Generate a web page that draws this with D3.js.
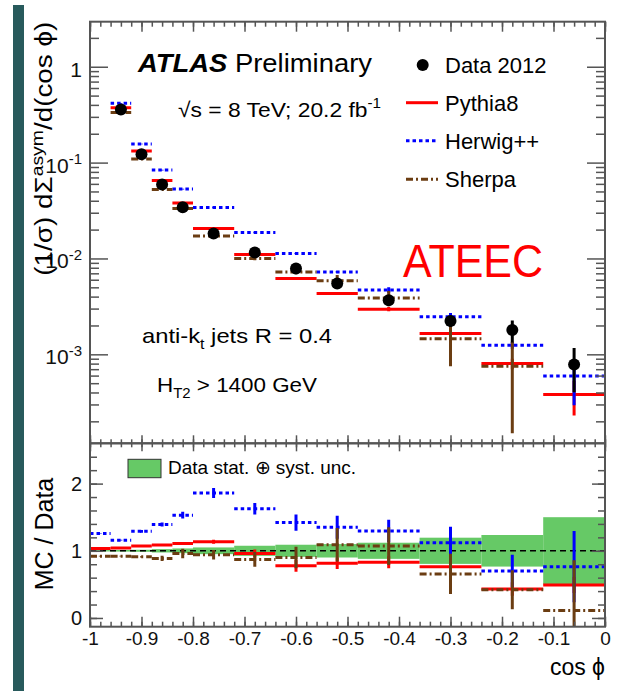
<!DOCTYPE html>
<html>
<head>
<meta charset="utf-8">
<script src="https://cdn.jsdelivr.net/npm/d3@7"></script>
<style>
  body { margin: 0; background: #fff; }
  text { font-family: "Liberation Sans", Arial, Helvetica, sans-serif; }
</style>
</head>
<body>
<script>
// bin edges in cos phi
const binEdges = [-1, -0.96, -0.92, -0.88, -0.84, -0.80, -0.72, -0.64, -0.56, -0.48, -0.36, -0.24, -0.12, 0];

// top panel: (1/sigma) dSigma^asym / d(cos phi), first bin is off scale
const dataVals   = [null, 0.359, 0.122, 0.059, 0.0343, 0.0182, 0.01155, 0.00787, 0.00548, 0.00367, 0.00223, 0.00179, 0.000783];
const dataErr    = [null, 0.004, 0.0015, 0.0008, 0.0005, 0.0003, 0.0002, 0.00015, 0.00015, 0.0002, 0.0003, 0.00046, 0.00038];
const pythiaVals = [null, 0.373, 0.132, 0.065, 0.038, 0.0206, 0.0110, 0.00618, 0.00431, 0.00296, 0.00165, 0.00080, 0.00038];
const pythiaErr  = [null, 0.003, 0.001, 0.0005, 0.0003, 0.0002, 0.0002, 0.0002, 0.00015, 0.00015, 0.0001, 0.0001, 0.00015];
const herwigVals = [null, 0.415, 0.156, 0.0835, 0.0529, 0.034, 0.0187, 0.01128, 0.00724, 0.0047, 0.00246, 0.001245, 0.000595];
const herwigErr  = [null, 0.003, 0.001, 0.0006, 0.0004, 0.0003, 0.0002, 0.00015, 0.00015, 0.0003, 0.00024, 0.0001, 0.0003];
const sherpaVals = [null, 0.334, 0.109, 0.0525, 0.0333, 0.0172, 0.0100, 0.00724, 0.00584, 0.00388, 0.00145, 0.00075, 0.000078];
const sherpaErr  = [null, 0.003, 0.001, 0.0006, 0.0004, 0.0003, 0.0004, 0.0004, 0.0009, 0.0007, 0.0007, 0.0006, 0.00003];

// bottom panel: MC / Data
const pythiaRatio    = [1.035, 1.04, 1.07, 1.085, 1.11, 1.133, 0.96, 0.778, 0.815, 0.83, 0.763, 0.43, 0.49];
const pythiaRatioErr = [0.005, 0.006, 0.01, 0.015, 0.02, 0.03, 0.06, 0.09, 0.085, 0.09, 0.1, 0.1, 0.12];
const herwigRatio    = [1.257, 1.158, 1.29, 1.39, 1.53, 1.86, 1.627, 1.42, 1.35, 1.296, 1.118, 0.70, 0.763];
const herwigRatioErr = [0.005, 0.006, 0.02, 0.03, 0.05, 0.075, 0.086, 0.12, 0.17, 0.165, 0.24, 0.24, 0.53];
const sherpaRatio    = [0.92, 0.92, 0.91, 0.887, 0.96, 0.94, 0.872, 0.90, 1.09, 1.07, 0.655, 0.42, 0.11];
const sherpaRatioErr = [0.005, 0.006, 0.01, 0.04, 0.07, 0.07, 0.11, 0.16, 0.25, 0.28, 0.3, 0.29, 0.75];
const dataUncBand    = [0.01, 0.012, 0.015, 0.025, 0.035, 0.05, 0.075, 0.09, 0.1, 0.12, 0.195, 0.235, 0.5];

// tick labels
const xTicks = [-1, -0.9, -0.8, -0.7, -0.6, -0.5, -0.4, -0.3, -0.2, -0.1, 0];
const logTicks = [1e-3, 1e-2, 1e-1, 1];
const ratioTicks = [0, 1, 2];

const W = 633, H = 691;
const L = 90, R = 605, T = 21.7, M = 443.3, B = 626.7;
const RED = '#ff0000', BLUE = '#0000ff', BROWN = '#6b3d12', AXIS = '#555';

const svg = d3.select('body').append('svg').attr('width', W).attr('height', H);

// slide edge strip
svg.append('rect').attr('x', 13).attr('y', 5).attr('width', 11).attr('height', H - 5).attr('fill', '#285a5c');

const x = d3.scaleLinear().domain([-1, 0]).range([L, R]);
const yTop = d3.scaleLog().domain([1.18e-4, 2.95]).range([M, T]);
const yRat = d3.scaleLinear().domain([-0.13, 2.6]).range([B, M]);

const centre = i => (binEdges[i] + binEdges[i + 1]) / 2;

const defs = svg.append('defs');
defs.append('clipPath').attr('id', 'clipTop').append('rect')
  .attr('x', L).attr('y', T).attr('width', R - L).attr('height', M - T);
defs.append('clipPath').attr('id', 'clipRat').append('rect')
  .attr('x', L).attr('y', M).attr('width', R - L).attr('height', B - M);

const gTop = svg.append('g').attr('clip-path', 'url(#clipTop)');
const gRat = svg.append('g').attr('clip-path', 'url(#clipRat)');

function drawHist(g, vals, yScale, color, dash) {
  g.append('g').selectAll('line')
    .data(vals.map((v, i) => ({ v, i })).filter(d => d.v != null))
    .join('line')
    .attr('x1', d => x(binEdges[d.i])).attr('x2', d => x(binEdges[d.i + 1]))
    .attr('y1', d => yScale(d.v)).attr('y2', d => yScale(d.v))
    .attr('stroke', color).attr('stroke-width', 3)
    .attr('stroke-dasharray', dash);
}

function drawErr(g, vals, errs, yScale, color, width) {
  const lo = yScale.domain()[0];
  g.append('g').selectAll('line')
    .data(vals.map((v, i) => ({ v, e: errs[i], i })).filter(d => d.v != null))
    .join('line')
    .attr('x1', d => x(centre(d.i))).attr('x2', d => x(centre(d.i)))
    .attr('y1', d => yScale(Math.max(d.v - d.e, lo)))
    .attr('y2', d => yScale(d.v + d.e))
    .attr('stroke', color).attr('stroke-width', width);
}

// ---- top panel
drawHist(gTop, pythiaVals, yTop, RED, null);
drawHist(gTop, herwigVals, yTop, BLUE, '3.5,3');
drawHist(gTop, sherpaVals, yTop, BROWN, '7,3,2,3');
drawErr(gTop, pythiaVals, pythiaErr, yTop, RED, 3);
drawErr(gTop, herwigVals, herwigErr, yTop, BLUE, 3);
drawErr(gTop, sherpaVals, sherpaErr, yTop, BROWN, 3);
drawErr(gTop, dataVals, dataErr, yTop, '#000', 3);
gTop.append('g').selectAll('circle')
  .data(dataVals.map((v, i) => ({ v, i })).filter(d => d.v != null))
  .join('circle')
  .attr('cx', d => x(centre(d.i))).attr('cy', d => yTop(d.v))
  .attr('r', 6).attr('fill', '#000');

// ---- ratio panel
gRat.append('g').selectAll('rect')
  .data(dataUncBand)
  .join('rect')
  .attr('x', (d, i) => x(binEdges[i]))
  .attr('width', (d, i) => x(binEdges[i + 1]) - x(binEdges[i]))
  .attr('y', d => yRat(1 + d))
  .attr('height', d => yRat(1 - d) - yRat(1 + d))
  .attr('fill', '#66c966');
gRat.append('line')
  .attr('x1', L).attr('x2', R).attr('y1', yRat(1)).attr('y2', yRat(1))
  .attr('stroke', '#000').attr('stroke-width', 1.6).attr('stroke-dasharray', '6,4');
drawHist(gRat, pythiaRatio, yRat, RED, null);
drawErr(gRat, pythiaRatio, pythiaRatioErr, yRat, RED, 3);
drawHist(gRat, herwigRatio, yRat, BLUE, '3.5,3');
drawErr(gRat, herwigRatio, herwigRatioErr, yRat, BLUE, 3);
drawHist(gRat, sherpaRatio, yRat, BROWN, '7,3,2,3');
drawErr(gRat, sherpaRatio, sherpaRatioErr, yRat, BROWN, 3);

// ---- axes
function styleAxis(g) {
  g.select('.domain').remove();
  g.selectAll('.tick line').attr('stroke', AXIS).attr('stroke-width', 1.5);
  g.selectAll('.tick text').attr('fill', '#111').attr('font-family', '"Liberation Sans", Arial, sans-serif');
}
const xMinor = d3.range(-50, 1).map(k => k / 50);
const noLabel = () => '';

// x ticks, top edge of top panel
svg.append('g').attr('transform', `translate(0,${T})`)
  .call(d3.axisTop(x).tickValues(xTicks).tickSize(-10).tickFormat(noLabel)).call(styleAxis);
svg.append('g').attr('transform', `translate(0,${T})`)
  .call(d3.axisTop(x).tickValues(xMinor).tickSize(-5).tickFormat(noLabel)).call(styleAxis);
// between panels
svg.append('g').attr('transform', `translate(0,${M})`)
  .call(d3.axisBottom(x).tickValues(xTicks).tickSize(-8).tickFormat(noLabel)).call(styleAxis);
svg.append('g').attr('transform', `translate(0,${M})`)
  .call(d3.axisBottom(x).tickValues(xMinor).tickSize(-4).tickFormat(noLabel)).call(styleAxis);
svg.append('g').attr('transform', `translate(0,${M})`)
  .call(d3.axisTop(x).tickValues(xTicks).tickSize(-8).tickFormat(noLabel)).call(styleAxis);
svg.append('g').attr('transform', `translate(0,${M})`)
  .call(d3.axisTop(x).tickValues(xMinor).tickSize(-4).tickFormat(noLabel)).call(styleAxis);
// bottom edge with labels
svg.append('g').attr('transform', `translate(0,${B})`)
  .call(d3.axisBottom(x).tickValues(xMinor).tickSize(-5).tickFormat(noLabel)).call(styleAxis);
svg.append('g').attr('transform', `translate(0,${B})`)
  .call(d3.axisBottom(x).tickValues(xTicks).tickSize(-10).tickPadding(5)
    .tickFormat(d => String(d))).call(styleAxis)
  .selectAll('.tick text').attr('font-size', 19);

// log y axis
const logMinor = [];
for (let e = -4; e <= 0; e++) for (let k = 2; k <= 9; k++) {
  const v = k * Math.pow(10, e);
  if (v > yTop.domain()[0] && v < yTop.domain()[1]) logMinor.push(v);
}
svg.append('g').attr('transform', `translate(${L},0)`)
  .call(d3.axisLeft(yTop).tickValues(logMinor).tickSize(-9).tickFormat(noLabel)).call(styleAxis);
svg.append('g').attr('transform', `translate(${R},0)`)
  .call(d3.axisRight(yTop).tickValues(logMinor).tickSize(-9).tickFormat(noLabel)).call(styleAxis);
svg.append('g').attr('transform', `translate(${R},0)`)
  .call(d3.axisRight(yTop).tickValues(logTicks).tickSize(-18).tickFormat(noLabel)).call(styleAxis);
const yAxTop = svg.append('g').attr('transform', `translate(${L},0)`)
  .call(d3.axisLeft(yTop).tickValues(logTicks).tickSize(-18).tickPadding(8).tickFormat(noLabel))
  .call(styleAxis);
yAxTop.selectAll('.tick text').each(function (d) {
  const t = d3.select(this).attr('font-size', 21).attr('dy', '0.45em');
  const p = Math.round(Math.log10(d));
  if (p === 0) { t.text('1'); return; }
  t.append('tspan').text('10');
  t.append('tspan').attr('font-size', 15).attr('dy', '-0.55em').text(String(p));
});

// ratio y axis
const ratMinor = d3.range(0, 14).map(k => k * 0.2).filter(v => v < 2.6);
svg.append('g').attr('transform', `translate(${L},0)`)
  .call(d3.axisLeft(yRat).tickValues(ratMinor).tickSize(-7).tickFormat(noLabel)).call(styleAxis);
svg.append('g').attr('transform', `translate(${R},0)`)
  .call(d3.axisRight(yRat).tickValues(ratMinor).tickSize(-7).tickFormat(noLabel)).call(styleAxis);
svg.append('g').attr('transform', `translate(${R},0)`)
  .call(d3.axisRight(yRat).tickValues(ratioTicks).tickSize(-13).tickFormat(noLabel)).call(styleAxis);
svg.append('g').attr('transform', `translate(${L},0)`)
  .call(d3.axisLeft(yRat).tickValues(ratioTicks).tickSize(-13).tickPadding(8).tickFormat(d => String(d)))
  .call(styleAxis)
  .selectAll('.tick text').attr('font-size', 20);

// frames
[[T, M], [M, B]].forEach(([y0, y1]) => {
  svg.append('rect').attr('x', L).attr('y', y0).attr('width', R - L).attr('height', y1 - y0)
    .attr('fill', 'none').attr('stroke', AXIS).attr('stroke-width', 2);
});

// ---- texts
const atlas = svg.append('text').attr('x', 138).attr('y', 72).attr('font-size', 26).attr('fill', '#000')
  .attr('textLength', 234).attr('lengthAdjust', 'spacingAndGlyphs');
atlas.append('tspan').attr('font-weight', 'bold').attr('font-style', 'italic').text('ATLAS');
atlas.append('tspan').text(' Preliminary');

const energy = svg.append('text').attr('x', 178).attr('y', 116.5).attr('font-size', 21).attr('fill', '#000')
  .attr('textLength', 203).attr('lengthAdjust', 'spacingAndGlyphs');
energy.append('tspan').text('\u221As = 8 TeV; 20.2 fb');
energy.append('tspan').attr('font-size', 14).attr('dy', -9).text('-1');

const anti = svg.append('text').attr('x', 142).attr('y', 343).attr('font-size', 21).attr('fill', '#000')
  .attr('textLength', 190).attr('lengthAdjust', 'spacingAndGlyphs');
anti.append('tspan').text('anti-k');
anti.append('tspan').attr('font-size', 14).attr('dy', 6).text('t');
anti.append('tspan').attr('dy', -6).text(' jets R = 0.4');

const ht = svg.append('text').attr('x', 157).attr('y', 391.5).attr('font-size', 21).attr('fill', '#000')
  .attr('textLength', 160).attr('lengthAdjust', 'spacingAndGlyphs');
ht.append('tspan').text('H');
ht.append('tspan').attr('font-size', 14).attr('dy', 6).text('T2');
ht.append('tspan').attr('dy', -6).text(' > 1400 GeV');

svg.append('text').attr('x', 403).attr('y', 276.5).attr('font-size', 47)
  .attr('textLength', 140).attr('lengthAdjust', 'spacingAndGlyphs')
  .attr('fill', RED).text('ATEEC');

// legend, top panel
const legendNames = ['Data 2012', 'Pythia8', 'Herwig++', 'Sherpa'];
const legendY = [65, 102.7, 140.7, 179.3];
svg.append('circle').attr('cx', 422.7).attr('cy', legendY[0]).attr('r', 6).attr('fill', '#000');
[[RED, null], [BLUE, '3.5,3'], [BROWN, '7,3,2,3']].forEach(([c, dash], i) => {
  svg.append('line').attr('x1', 406).attr('x2', 438)
    .attr('y1', legendY[i + 1]).attr('y2', legendY[i + 1])
    .attr('stroke', c).attr('stroke-width', 3).attr('stroke-dasharray', dash);
});
legendNames.forEach((n, i) => {
  svg.append('text').attr('x', 445).attr('y', legendY[i] + 8).attr('font-size', 22)
    .attr('fill', '#000').text(n);
});

// legend, ratio panel
svg.append('rect').attr('x', 128).attr('y', 459.3).attr('width', 33).attr('height', 18.4)
  .attr('fill', '#66c966').attr('stroke', '#333').attr('stroke-width', 1);
svg.append('text').attr('x', 168).attr('y', 474.3).attr('font-size', 19).attr('fill', '#000')
  .text('Data stat. \u2295 syst. unc.');

// axis titles
const ytitle = svg.append('text').attr('transform', `translate(52,${T}) rotate(-90)`)
  .attr('text-anchor', 'end').attr('font-size', 23).attr('fill', '#000')
  .attr('textLength', 254).attr('lengthAdjust', 'spacingAndGlyphs');
ytitle.append('tspan').text('(1/\u03C3) d\u03A3');
ytitle.append('tspan').attr('font-size', 16).attr('dy', -9).text('asym');
ytitle.append('tspan').attr('dy', 9).text('/d(cos \u03D5)');

svg.append('text').attr('transform', `translate(53,534) rotate(-90)`)
  .attr('text-anchor', 'middle').attr('font-size', 25).attr('fill', '#000').text('MC / Data');

svg.append('text').attr('x', R).attr('y', 675).attr('text-anchor', 'end')
  .attr('font-size', 23).attr('fill', '#000').text('cos \u03D5');
</script>
</body>
</html>
